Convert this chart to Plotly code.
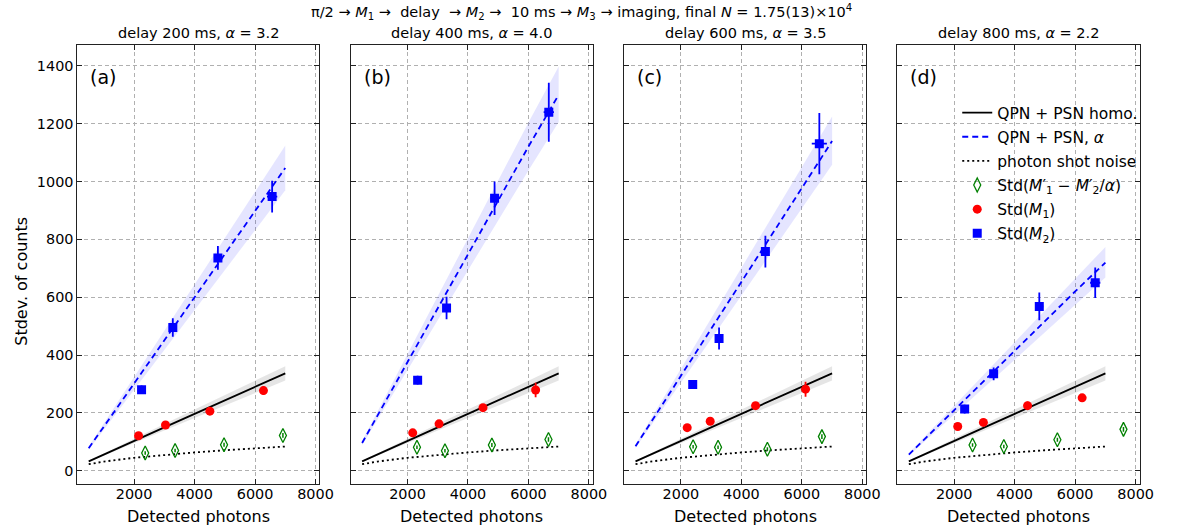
import plotly.graph_objects as go

# ---------------- data ----------------
panel_labels = ["(a)", "(b)", "(c)", "(d)"]
subtitles = ["delay 200 ms, <i>α</i> = 3.2", "delay 400 ms, <i>α</i> = 4.0",
             "delay 600 ms, <i>α</i> = 3.5", "delay 800 ms, <i>α</i> = 2.2"]

model_photons = [500, 1000, 2000, 3000, 4000, 5000, 6000, 7000]
shot_noise = [22.4, 31.6, 44.7, 54.8, 63.2, 70.7, 77.5, 83.7]
homo_line = [32.3, 56.3, 103.4, 150.1, 196.8, 243.5, 290.1, 336.8]
homo_lo = [29.9, 52.1, 95.7, 139.0, 182.2, 225.5, 268.6, 311.9]
homo_hi = [34.7, 60.5, 111.1, 161.2, 211.4, 261.5, 311.6, 361.7]

alpha_line = [
    [77.9, 152.4, 301.5, 450.7, 599.8, 748.9, 898.0, 1047.1],
    [95.8, 189.1, 375.5, 561.9, 748.3, 934.7, 1121.1, 1300.0],
    [84.6, 166.1, 329.3, 492.4, 655.5, 818.6, 981.7, 1140.0],
    [55.9, 107.3, 209.9, 312.4, 414.9, 517.5, 620.0, 720.0],
]
alpha_lo = [
    [72.1, 141.1, 279.2, 417.4, 555.4, 693.5, 831.5, 969.6],
    [88.7, 175.1, 347.7, 520.3, 692.9, 865.5, 1038.1, 1206.0],
    [78.3, 153.8, 304.9, 456.0, 607.0, 758.0, 909.1, 1058.0],
    [51.8, 99.4, 194.4, 289.3, 384.2, 479.2, 574.1, 668.0],
]
alpha_hi = [
    [83.7, 163.7, 323.8, 484.1, 644.2, 804.3, 964.5, 1124.6],
    [102.9, 203.1, 403.3, 603.5, 803.7, 1003.9, 1204.1, 1398.0],
    [90.9, 178.4, 353.7, 528.8, 704.0, 879.2, 1054.3, 1225.0],
    [60.0, 115.2, 225.4, 335.5, 445.6, 555.8, 665.9, 774.0],
]

m2_x = [[2248, 3281, 4772, 6565], [2336, 3292, 4880, 6673],
        [2391, 3262, 4794, 6578], [2346, 3304, 4814, 6663]]
m2_y = [[280, 495, 736, 948], [313, 563, 942, 1240],
        [298, 457, 758, 1131], [213, 335, 568, 650]]
m2_yerr = [[15, 32, 41, 55], [15, 39, 58, 102],
           [12, 38, 55, 106], [15, 22, 48, 53]]
m2_xerr = [[80, 100, 130, 170], [80, 100, 130, 170],
           [80, 100, 130, 250], [80, 100, 130, 170]]

m1_x = [[2148, 3040, 4507, 6278], [2173, 3044, 4497, 6237],
        [2209, 2969, 4469, 6122], [2117, 2966, 4426, 6230]]
m1_y = [[121, 158, 206, 277], [131, 162, 218, 279],
        [149, 171, 225, 282], [153, 167, 225, 252]]
m1_yerr = [[8, 9, 10, 15], [8, 8, 10, 25], [8, 8, 12, 26], [8, 8, 14, 10]]
m1_xerr = [[60, 70, 90, 110], [60, 70, 90, 110], [60, 70, 90, 110], [60, 70, 90, 130]]

diff_x = [[2368, 3356, 4975, 6922], [2313, 3239, 4791, 6662],
          [2404, 3229, 4860, 6663], [2607, 3641, 5412, 7597]]
diff_y = [[61, 70, 90, 122], [81, 69, 89, 108],
          [83, 81, 74, 118], [89, 84, 107, 143]]
diff_yerr = [[6, 6, 7, 8], [6, 6, 7, 8], [6, 6, 7, 8], [6, 6, 7, 8]]

x_ticks = [2000, 4000, 6000, 8000]
y_ticks = [0, 200, 400, 600, 800, 1000, 1200, 1400]

# ---------------- layout geometry ----------------
W, H = 1177, 532
panel_px = [(78.3, 323.3), (355.0, 600.0), (631.7, 876.7), (908.3, 1153.3)]
top_px, bot_px = 44.8, 484.3
FONT = "DejaVu Sans"

fig = go.Figure()

BLUE = "#0000ff"
RED = "#ff0000"
GREEN = "#008000"

for i in range(4):
    xa = "x" if i == 0 else f"x{i+1}"
    ya = "y" if i == 0 else f"y{i+1}"
    show = (i == 3)
    # bands
    fig.add_trace(go.Scatter(x=model_photons, y=alpha_lo[i], xaxis=xa, yaxis=ya,
                             mode="lines", line=dict(width=0), showlegend=False,
                             hoverinfo="skip"))
    fig.add_trace(go.Scatter(x=model_photons, y=alpha_hi[i], xaxis=xa, yaxis=ya,
                             mode="lines", line=dict(width=0), fill="tonexty",
                             fillcolor="rgba(0,0,255,0.10)", showlegend=False,
                             hoverinfo="skip"))
    fig.add_trace(go.Scatter(x=model_photons, y=homo_lo, xaxis=xa, yaxis=ya,
                             mode="lines", line=dict(width=0), showlegend=False,
                             hoverinfo="skip"))
    fig.add_trace(go.Scatter(x=model_photons, y=homo_hi, xaxis=xa, yaxis=ya,
                             mode="lines", line=dict(width=0), fill="tonexty",
                             fillcolor="rgba(0,0,0,0.10)", showlegend=False,
                             hoverinfo="skip"))
    # lines
    fig.add_trace(go.Scatter(x=model_photons, y=homo_line, xaxis=xa, yaxis=ya,
                             mode="lines", line=dict(color="black", width=1.8),
                             name="QPN + PSN homo.", legendgroup="g1",
                             showlegend=show))
    fig.add_trace(go.Scatter(x=model_photons, y=alpha_line[i], xaxis=xa, yaxis=ya,
                             mode="lines", line=dict(color=BLUE, width=1.8, dash="6px,4px"),
                             name="QPN + PSN, <i>α</i>", legendgroup="g2",
                             showlegend=show))
    fig.add_trace(go.Scatter(x=model_photons, y=shot_noise, xaxis=xa, yaxis=ya,
                             mode="lines", line=dict(color="black", width=1.8, dash="2px,3px"),
                             name="photon shot noise", legendgroup="g3",
                             showlegend=show))
    # points
    fig.add_trace(go.Scatter(x=diff_x[i], y=diff_y[i], xaxis=xa, yaxis=ya,
                             mode="markers",
                             marker=dict(symbol="diamond-tall-open", size=10,
                                         color=GREEN, line=dict(width=1.3, color=GREEN)),
                             error_y=dict(type="data", array=diff_yerr[i], color=GREEN,
                                          thickness=1.5, width=0),
                             name="Std(<i>M</i>′<sub>1</sub> − <i>M</i>′<sub>2</sub>/<i>α</i>)",
                             legendgroup="g4", showlegend=show))
    fig.add_trace(go.Scatter(x=m1_x[i], y=m1_y[i], xaxis=xa, yaxis=ya,
                             mode="markers",
                             marker=dict(symbol="circle", size=9, color=RED),
                             error_y=dict(type="data", array=m1_yerr[i], color=RED,
                                          thickness=1.8, width=0),
                             error_x=dict(type="data", array=m1_xerr[i], color=RED,
                                          thickness=1.8, width=0),
                             name="Std(<i>M</i><sub>1</sub>)", legendgroup="g5",
                             showlegend=show))
    fig.add_trace(go.Scatter(x=m2_x[i], y=m2_y[i], xaxis=xa, yaxis=ya,
                             mode="markers",
                             marker=dict(symbol="square", size=9, color=BLUE),
                             error_y=dict(type="data", array=m2_yerr[i], color=BLUE,
                                          thickness=1.8, width=0),
                             error_x=dict(type="data", array=m2_xerr[i], color=BLUE,
                                          thickness=1.8, width=0),
                             name="Std(<i>M</i><sub>2</sub>)", legendgroup="g6",
                             showlegend=show))

axis_common = dict(
    showline=True, linecolor="#222", linewidth=1, mirror="ticks",
    ticks="inside", ticklen=5, tickwidth=1, tickcolor="#222",
    showgrid=True, gridcolor="#b0b0b0", gridwidth=1, griddash="4px,3px",
    zeroline=False, tickfont=dict(family=FONT, size=14.4, color="black"),
)

layout = dict(
    width=W, height=H, margin=dict(l=0, r=0, t=0, b=0),
    paper_bgcolor="white", plot_bgcolor="white",
    font=dict(family=FONT, color="black"),
    showlegend=True,
    legend=dict(x=(1143 + 14) / W, y=1 - 96 / H, xanchor="right", yanchor="top",
                bgcolor="rgba(0,0,0,0)", borderwidth=0,
                font=dict(family=FONT, size=15.5), traceorder="grouped",
                tracegroupgap=1, itemwidth=30),
)

annotations = []
for i in range(4):
    x0, x1 = panel_px[i]
    xkey = "xaxis" if i == 0 else f"xaxis{i+1}"
    ykey = "yaxis" if i == 0 else f"yaxis{i+1}"
    layout[xkey] = dict(axis_common, domain=[x0 / W, x1 / W], range=[125, 8130],
                        tickvals=x_ticks, ticklabelstandoff=-4,
                        anchor="y" if i == 0 else f"y{i+1}")
    layout[ykey] = dict(axis_common, domain=[1 - bot_px / H, 1 - top_px / H],
                        range=[-47, 1473], tickvals=y_ticks,
                        showticklabels=(i == 0),
                        anchor="x" if i == 0 else f"x{i+1}")
    annotations.append(dict(text=subtitles[i], xref="paper", yref="paper",
                            x=(x0 + x1) / 2 / W, y=1 - 33 / H, xanchor="center",
                            yanchor="middle", showarrow=False,
                            font=dict(family=FONT, size=14.5)))
    annotations.append(dict(text=panel_labels[i], xref="paper", yref="paper",
                            x=(x0 + 11) / W, y=1 - 77 / H, xanchor="left",
                            yanchor="middle", showarrow=False,
                            font=dict(family=FONT, size=19)))
    annotations.append(dict(text="Detected photons", xref="paper", yref="paper",
                            x=(x0 + x1) / 2 / W, y=1 - 516 / H, xanchor="center",
                            yanchor="middle", showarrow=False,
                            font=dict(family=FONT, size=16)))

annotations.append(dict(text="Stdev. of counts", xref="paper", yref="paper",
                        x=21 / W, y=1 - 281 / H, xanchor="center", yanchor="middle",
                        textangle=-90, showarrow=False,
                        font=dict(family=FONT, size=16)))
annotations.append(dict(
    text="π/2 → <i>M</i><sub>1</sub> →  delay  → <i>M</i><sub>2</sub> →  10 ms → "
         "<i>M</i><sub>3</sub> → imaging, final <i>N</i> = 1.75(13)×10<sup>4</sup>",
    xref="paper", yref="paper", x=588 / W, y=1 - 12 / H, xanchor="center",
    yanchor="middle", showarrow=False, font=dict(family=FONT, size=14.5)))

layout["annotations"] = annotations
fig.update_layout(**layout)
fig.write_html("out.html", config={"displayModeBar": False},
               post_script="document.body.style.margin='0px';")
